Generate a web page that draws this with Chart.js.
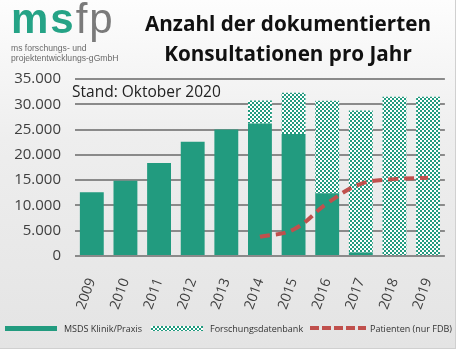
<!DOCTYPE html>
<html>
<head>
<meta charset="utf-8">
<script src="https://cdn.jsdelivr.net/npm/chart.js@4"></script>
<style>
    body { margin: 0; background: #fff; }
    #panel {
        position: relative;
        width: 455px;
        height: 348px;
        background: linear-gradient(#fdfdfd 0%, #eeeeee 40%, #e4e4e4 100%);
        border-right: 1px solid #d0d0d0;
        border-bottom: 1px solid #d0d0d0;
        overflow: hidden;
    }
    #myChart { position: absolute; left: 0; top: 0; }
    .logo { position: absolute; left: 11px; top: -5px; font-family: "Liberation Sans", Arial, sans-serif; font-size: 42px; letter-spacing: 2px; }
    .logo b { color: #25a386; }
    .logo span { color: #7a7a7a; font-weight: normal; }
    .sub { position: absolute; left: 11px; font-family: "Liberation Sans", Arial, sans-serif; font-size: 8.6px; color: #6a6a6a; white-space: nowrap; }
    .title { position: absolute; left: 130px; width: 316px; text-align: center; top: 8px; font-family: "Open Sans", sans-serif; font-weight: bold; font-size: 20.7px; line-height: 30px; color: #111; white-space: nowrap; }
    .stand { position: absolute; left: 72px; top: 80px; font-family: "Open Sans", sans-serif; font-size: 15.5px; color: #222; }
    .legend { position: absolute; top: 322px; font-family: "Open Sans", sans-serif; font-size: 9px; color: #333; white-space: nowrap; }
    .sw { position: absolute; }
</style>
</head>
<body>
<div id="panel">
    <canvas id="myChart" width="456" height="348"></canvas>
    <div class="logo"><b>ms</b><span>fp</span></div>
    <div class="sub" style="top:43px">ms forschungs- und</div>
    <div class="sub" style="top:53px">projektentwicklungs-gGmbH</div>
    <div class="title">Anzahl der dokumentierten<br>Konsultationen pro Jahr</div>
    <div class="stand">Stand: Oktober 2020</div>
    <div class="sw" style="left:5px;top:326px;width:52px;height:5px;background:#229b7f"></div>
    <div class="legend" style="left:64px">MSDS Klinik/Praxis</div>
    <div class="sw" id="sw2" style="left:151px;top:326px;width:52px;height:5px"></div>
    <div class="legend" style="left:210px">Forschungsdatenbank</div>
    <div class="sw" style="left:310px;top:326px;width:56px;height:4px;background:repeating-linear-gradient(90deg,#c0504d 0 9px,transparent 9px 12px)"></div>
    <div class="legend" style="left:370px">Patienten (nur FDB)</div>
</div>
<script>
const years = ["2009", "2010", "2011", "2012", "2013", "2014", "2015", "2016", "2017", "2018", "2019"];
const klinik = [12600, 14900, 18400, 22600, 25000, 26200, 24100, 12400, 700, 0, 0];
const fdb = [0, 0, 0, 0, 0, 4550, 8200, 18300, 28050, 31500, 31500];
const patienten = [null, null, null, null, null, 3800, 5250, 10400, 14250, 15200, 15450];
const yTicks = [0, 5000, 10000, 15000, 20000, 25000, 30000, 35000];

const green = "#229b7f";

// checker pattern for Forschungsdatenbank
let pc = document.createElement("canvas");
pc.width = 4;
pc.height = 4;
let pg = pc.getContext("2d");
pg.fillStyle = green;
pg.fillRect(0, 0, 4, 4);
pg.fillStyle = "#ffffff";
pg.fillRect(0, 0, 2, 2);
pg.fillRect(2, 2, 2, 2);

document.getElementById("sw2").style.background = "url(" + pc.toDataURL() + ")";

const ctx = document.getElementById("myChart").getContext("2d");
let pattern = ctx.createPattern(pc, "repeat");

function deNum(v) {
    return String(v).replace(/\B(?=(\d{3})+(?!\d))/g, ".");
}

const data = {
    labels: years,
    datasets: [
        {
            type: "line",
            label: "Patienten (nur FDB)",
            data: patienten,
            stack: "p",
            borderColor: "#c0504d",
            borderWidth: 4,
            borderDash: [10, 6],
            pointRadius: 0,
            tension: 0.4,
            fill: false,
        },
        {
            label: "MSDS Klinik/Praxis",
            data: klinik,
            stack: "a",
            backgroundColor: green,
            barPercentage: 0.71,
            categoryPercentage: 1,
        },
        {
            label: "Forschungsdatenbank",
            data: fdb,
            stack: "a",
            backgroundColor: pattern,
            barPercentage: 0.71,
            categoryPercentage: 1,
        },
    ],
};

const config = {
    type: "bar",
    data: data,
    options: {
        responsive: false,
        animation: false,
        layout: {
            autoPadding: false,
            padding: { left: 0, right: 3, top: 79, bottom: 0 },
        },
        plugins: {
            legend: { display: false },
            tooltip: { enabled: false },
        },
        scales: {
            x: {
                stacked: true,
                grid: { display: false },
                border: { display: false },
                ticks: {
                    minRotation: 70,
                    maxRotation: 70,
                    padding: 12,
                    color: "#404040",
                    font: { family: "Open Sans", size: 14 },
                },
                afterFit: (s) => { s.height = 92; },
            },
            y: {
                stacked: true,
                min: 0,
                max: 35000,
                afterBuildTicks: (s) => { s.ticks = yTicks.map((v) => ({ value: v })); },
                grid: { color: "#8a8a8a", lineWidth: 2, drawTicks: false },
                border: { display: false },
                ticks: {
                    padding: 14,
                    color: "#404040",
                    font: { family: "Open Sans", size: 15 },
                    callback: (v) => deNum(v),
                },
                afterFit: (s) => { s.width = 75; },
            },
        },
    },
};

const chart = new Chart(ctx, config);
</script>
</body>
</html>
